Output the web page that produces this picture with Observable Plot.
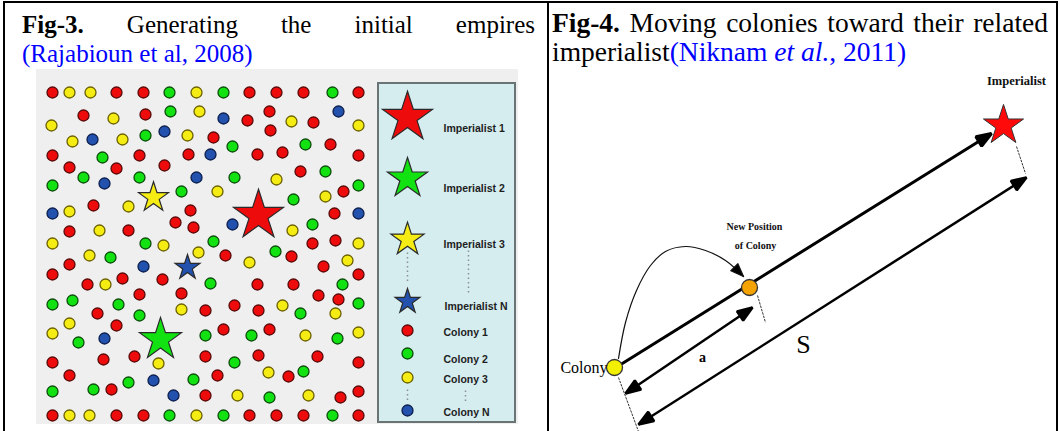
<!DOCTYPE html>
<html><head><meta charset="utf-8">
<script src="https://cdn.jsdelivr.net/npm/d3@7"></script>
<script src="https://cdn.jsdelivr.net/npm/@observablehq/plot@0.6"></script>
<style>
html,body{margin:0;padding:0;background:#fff;}
#page{position:relative;width:1060px;height:431px;overflow:hidden;background:#fff;font-family:"Liberation Serif","Times New Roman",serif;}
.rule{position:absolute;background:#000;}
.cap{position:absolute;top:10px;font-size:25px;line-height:29px;color:#000;}
.cap .l1{text-align:justify;text-align-last:justify;}
.blue{color:#0000ff;}
.panel{position:absolute;}
</style></head>
<body>
<div id="page">
  <div class="rule" style="left:3px;top:1px;width:1055px;height:2px"></div>
  <div class="rule" style="left:3px;top:1px;width:2px;height:430px"></div>
  <div class="rule" style="left:547px;top:1px;width:2px;height:430px"></div>
  <div class="rule" style="left:1056px;top:1px;width:2px;height:430px"></div>
  <div class="cap" id="capL" style="left:22px;width:513px"></div>
  <div class="cap" id="capR" style="left:552px;width:496px;font-size:27.5px;top:8px;line-height:29px"></div>
  <div class="panel" id="left" style="left:36px;top:69px"></div>
  <div class="panel" id="right" style="left:548px;top:68px"></div>
</div>
<script>
// ---------- captions ----------
const fig3Title = ["Fig-3.", "Generating", "the", "initial", "empires"];
const fig3Source = "(Rajabioun et al, 2008)";
const fig4Title = ["Fig-4.", "Moving", "colonies", "toward", "their", "related"];
const fig4Source = {lead: "imperialist", cite1: "(Niknam ", citeItalic: "et al.", cite2: ", 2011)"};

// ---------- Fig-3 data: colonies (picture coordinates) ----------
const colony1 = [ // red
  [52,92],[116,92],[143,92],[249,92],[276,92],[303,92],[358,92],
  [83,115],[145,114],[247,120],[269,111],[313,122],
  [213,137],[270,130],[330,144],
  [52,155],[139,155],[188,154],[257,154],[282,152],[358,155],[69,167],[116,168],[164,165],[300,171],
  [343,191],
  [93,205],[190,210],[175,222],[193,227],[334,213],[69,231],[128,230],
  [312,243],[335,240],
  [69,264],[52,274],[225,255],[291,256],[323,266],[358,274],
  [87,284],[122,278],[162,279],[257,284],[293,284],[139,294],[181,293],[318,295],[338,299],
  [205,310],[234,305],[258,310],[97,313],
  [116,325],[223,329],[269,329],
  [52,362],[103,359],[134,356],[205,356],[258,355],[317,356],[358,362],[69,375],[217,375],[288,376],
  [111,389],[205,395],[340,397],[358,391],
  [52,415],[116,415],[143,415],[249,415],[276,415],[303,415],[358,415]
];
const colony2 = [ // green
  [169,92],[223,92],[332,92],
  [170,111],
  [145,135],[232,146],[305,144],
  [102,157],[325,171],
  [52,185],[83,177],[139,177],[234,177],[181,191],[293,199],[358,185],
  [312,224],
  [145,243],[213,241],
  [110,257],[275,251],
  [210,283],[342,284],
  [52,304],[72,300],[118,304],[300,313],[358,303],[139,315],
  [78,342],[205,335],[251,335],[337,338],
  [234,362],[128,382],[193,379],[303,371],
  [52,391],[93,389],[269,397],
  [169,415],[223,415],[332,415]
];
const colony3 = [ // yellow
  [69,92],[90,92],[196,92],
  [51,125],[113,118],[199,111],[291,121],[358,125],
  [72,141],[122,139],[187,135],
  [276,179],[217,191],[325,196],
  [69,211],[128,206],[99,230],[292,230],
  [52,243],[163,245],[358,243],
  [89,255],[198,252],[249,262],[347,260],
  [105,284],
  [181,309],[282,305],[335,313],
  [69,323],[52,333],[305,335],[358,332],
  [158,363],[268,372],
  [237,395],[308,395],
  [69,415],[89,415],[196,415]
];
const colonyN = [ // blue
  [223,118],[338,111],
  [92,139],[164,131],
  [210,154],
  [104,183],[196,177],
  [52,213],[232,224],[358,213],
  [143,266],
  [104,338],
  [153,380],
  [173,395]
];
const fieldEmpires = [
  {name: "Imperialist 1", x: 258, y: 215},
  {name: "Imperialist 2", x: 160, y: 339},
  {name: "Imperialist 3", x: 153, y: 197},
  {name: "Imperialist N", x: 187, y: 267}
];
const legendLabels = ["Imperialist 1", "Imperialist 2", "Imperialist 3", "Imperialist N", "Colony 1", "Colony 2", "Colony 3", "Colony N"];
const legendSymbolY = [117, 178, 239, 301, 330, 353, 377, 410];
const legendLabelY = [128, 188, 244, 306, 332, 359, 379, 412];
const legendFrame = [{x1: 378, x2: 515, y1: 83, y2: 422}];
const legendEllipsis = [
  {x1: 407, y1: 252, x2: 407, y2: 281},
  {x1: 468, y1: 250, x2: 468, y2: 292},
  {x1: 407, y1: 389, x2: 407, y2: 401},
  {x1: 465, y1: 390, x2: 465, y2: 403}
];

// ---------- Fig-4 data ----------
const colonyPos = [{label: "Colony", x: 614, y: 367}];
const newPos = [{label: "New Position of Colony", x: 749, y: 287}];
const imperialistPos = [{label: "Imperialist", x: 1003, y: 125}];
const moveLine = [{x1: 617, y1: 366, x2: 991, y2: 133}];
const distanceA = [{label: "a", x1: 625, y1: 393, x2: 752, y2: 307, lx: 702, ly: 357}];
const distanceS = [{label: "S", x1: 638, y1: 424, x2: 1026, y2: 177, lx: 803, ly: 344}];
const extensionTicks = [
  {x1: 618, y1: 377, x2: 638, y2: 431},
  {x1: 757, y1: 295, x2: 765, y2: 322},
  {x1: 1016, y1: 146, x2: 1025, y2: 173}
];
const assimilationPath = [[618,358],[625,322],[636,290],[650,265],[665,251],[685,246],[705,250],[725,260],[743,276]];
const newPosLabel = [{text: "New Position", x: 754, y: 226}, {text: "of Colony", x: 755, y: 245}];
const imperialistLabel = [{text: "Imperialist", x: 1016, y: 80}];

// ---------- styles ----------
const colorOf = {
  "1": {fill: "#ee0b0b", stroke: "#5a0a0a"},
  "2": {fill: "#12e212", stroke: "#0d4d0d"},
  "3": {fill: "#f4ec12", stroke: "#6b6000"},
  "N": {fill: "#2251ae", stroke: "#0d1f4d"}
};
const keyOf = (name) => name.slice(-1);
const fieldStarR = {"Imperialist 1": 15.7, "Imperialist 2": 13.2, "Imperialist 3": 9.4, "Imperialist N": 7.8};
const legendStarR = {"Imperialist 1": 15.7, "Imperialist 2": 12.6, "Imperialist 3": 10.4, "Imperialist N": 7.8};

// captions
document.getElementById("capL").innerHTML =
  `<div class="l1"><b>${fig3Title[0]}</b> ${fig3Title.slice(1).join(" ")}</div><div class="blue">${fig3Source}</div>`;
document.getElementById("capR").innerHTML =
  `<div class="l1"><b>${fig4Title[0]}</b> ${fig4Title.slice(1).join(" ")}</div>` +
  `<div>${fig4Source.lead}<span class="blue">${fig4Source.cite1}<i>${fig4Source.citeItalic}</i>${fig4Source.cite2}</span></div>`;

// custom filled arrowhead marker
function filledArrow(orient, len, wid) {
  return (color) => {
    const m = d3.create("svg:marker")
      .attr("viewBox", `${-len} ${-wid/2} ${len} ${wid}`)
      .attr("markerUnits", "userSpaceOnUse")
      .attr("markerWidth", len).attr("markerHeight", wid)
      .attr("refX", 0).attr("refY", 0)
      .attr("orient", orient)
      .attr("overflow", "visible")
      .attr("fill", "#000");
    m.append("path").attr("d", `M${-len},${-wid/2}L0,0L${-len},${wid/2}Z`);
    return m.node();
  };
}

// ---------- Fig-3 plot ----------
const toPts = (arr) => arr.map(([x, y]) => ({x, y}));
const colonySets = [["1", colony1], ["2", colony2], ["3", colony3], ["N", colonyN]];
const legendRows = legendLabels.map((name, i) => ({name, x: 407, y: legendSymbolY[i], ly: legendLabelY[i]}));

const leftMarks = [
  Plot.rect(legendFrame, {x1: "x1", x2: "x2", y1: "y1", y2: "y2", fill: "#d5edef", stroke: "#6b7475", strokeWidth: 2}),
  ...colonySets.map(([k, arr]) => Plot.dot(toPts(arr), {x: "x", y: "y", r: 5.5, fill: colorOf[k].fill, stroke: colorOf[k].stroke, strokeWidth: 1.3})),
  ...fieldEmpires.map(e => Plot.dot([e], {x: "x", y: "y", symbol: "star", r: fieldStarR[e.name], fill: colorOf[keyOf(e.name)].fill, stroke: "#2a2a2a", strokeWidth: 1.2})),
  Plot.link(legendEllipsis, {x1: "x1", y1: "y1", x2: "x2", y2: "y2", stroke: "#8a9090", strokeWidth: 1.5, strokeDasharray: "1.5,3"}),
  ...legendRows.slice(0, 4).map(e => Plot.dot([e], {x: "x", y: "y", symbol: "star", r: legendStarR[e.name], fill: colorOf[keyOf(e.name)].fill, stroke: "#2a2a2a", strokeWidth: 1.2})),
  ...legendRows.slice(4).map(e => Plot.dot([e], {x: "x", y: "y", r: 5.5, fill: colorOf[keyOf(e.name)].fill, stroke: colorOf[keyOf(e.name)].stroke, strokeWidth: 1.3})),
  Plot.text(legendRows, {x: d => d.name.startsWith("Imperialist N") ? 444 : 443, y: "ly", text: "name", textAnchor: "start", fontSize: 10.5, fontWeight: "bold", fontFamily: "Liberation Sans, Arial, sans-serif", fill: "#1e1e1e"})
];
const leftPlot = Plot.plot({
  width: 482, height: 355, margin: 0,
  x: {domain: [36, 518], axis: null},
  y: {domain: [69, 424], reverse: true, axis: null},
  style: {background: "#efefef", overflow: "visible"},
  marks: leftMarks
});
document.getElementById("left").append(leftPlot);

// ---------- Fig-4 plot ----------
const rightPlot = Plot.plot({
  width: 510, height: 363, margin: 0,
  x: {domain: [548, 1058], axis: null},
  y: {domain: [68, 431], reverse: true, axis: null},
  style: {background: "transparent", overflow: "visible"},
  marks: [
    Plot.link(extensionTicks, {x1: "x1", y1: "y1", x2: "x2", y2: "y2", stroke: "#333", strokeWidth: 1, strokeDasharray: "2.5,1"}),
    Plot.line(assimilationPath, {x: d => d[0], y: d => d[1], curve: "catmull-rom", stroke: "#111", strokeWidth: 1.2, markerEnd: filledArrow("auto", 13, 10)}),
    Plot.link(moveLine, {x1: "x1", y1: "y1", x2: "x2", y2: "y2", stroke: "#000", strokeWidth: 3, markerEnd: filledArrow("auto", 15, 11)}),
    Plot.link(distanceA, {x1: "x1", y1: "y1", x2: "x2", y2: "y2", stroke: "#000", strokeWidth: 2.5, markerStart: filledArrow("auto-start-reverse", 15, 11), markerEnd: filledArrow("auto", 15, 11)}),
    Plot.link(distanceS, {x1: "x1", y1: "y1", x2: "x2", y2: "y2", stroke: "#000", strokeWidth: 2.5, markerStart: filledArrow("auto-start-reverse", 15, 11), markerEnd: filledArrow("auto", 15, 11)}),
    Plot.dot(colonyPos, {x: "x", y: "y", r: 8, fill: "#f3ef00", stroke: "#333", strokeWidth: 1.3}),
    Plot.dot(newPos, {x: "x", y: "y", r: 8, fill: "#f5a300", stroke: "#333", strokeWidth: 1.3}),
    Plot.dot(imperialistPos, {x: "x", y: "y", symbol: "star", r: 12.6, fill: "#ff0a0a", stroke: "#333", strokeWidth: 1}),
    Plot.text(colonyPos, {x: d => d.x - 7, y: "y", text: "label", textAnchor: "end", fontSize: 16, fontFamily: "Liberation Serif, serif", fill: "#000"}),
    Plot.text(distanceA, {x: "lx", y: "ly", text: "label", fontSize: 14, fontWeight: "bold", fontFamily: "Liberation Serif, serif", fill: "#000"}),
    Plot.text(distanceS, {x: "lx", y: "ly", text: "label", fontSize: 26, fontFamily: "Liberation Serif, serif", fill: "#000"}),
    Plot.text(newPosLabel, {x: "x", y: "y", text: "text", fontSize: 10, fontWeight: "bold", fontFamily: "Liberation Serif, serif", fill: "#111"}),
    Plot.text(imperialistLabel, {x: "x", y: "y", text: "text", fontSize: 12.5, fontWeight: "bold", fontFamily: "Liberation Serif, serif", fill: "#111"})
  ]
});
document.getElementById("right").append(rightPlot);
</script>
</body></html>
